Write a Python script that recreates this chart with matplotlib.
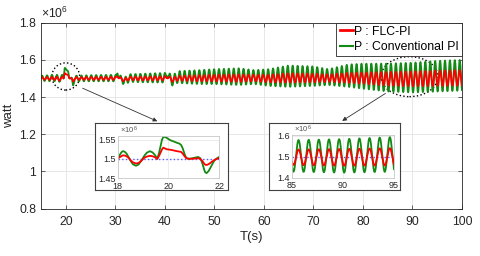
import matplotlib.pyplot as plt
import numpy as np
from matplotlib.patches import Ellipse, FancyArrowPatch

plt.rcParams['font.family'] = ['Liberation Sans', 'DejaVu Sans']

# envelope of the ~1 s power oscillation (x1e6 W)
env_t = [15, 18, 22, 25, 30, 35, 40, 43, 47, 50, 55, 58, 61, 65, 70, 73, 77, 80, 85, 90, 95, 100]
green_top = [1.515, 1.52, 1.515, 1.518, 1.52, 1.525, 1.53, 1.54, 1.545, 1.55, 1.555, 1.545,
             1.55, 1.57, 1.565, 1.55, 1.575, 1.58, 1.58, 1.585, 1.595, 1.6]
green_bot = [1.487, 1.485, 1.485, 1.485, 1.485, 1.48, 1.478, 1.475, 1.47, 1.47, 1.465, 1.47,
             1.46, 1.455, 1.46, 1.465, 1.455, 1.445, 1.43, 1.425, 1.43, 1.435]
red_top = [1.507, 1.509, 1.507, 1.508, 1.509, 1.51, 1.512, 1.515, 1.518, 1.52, 1.522, 1.52,
           1.52, 1.528, 1.526, 1.522, 1.53, 1.532, 1.535, 1.538, 1.542, 1.545]
red_bot = [1.494, 1.492, 1.493, 1.493, 1.493, 1.49, 1.49, 1.488, 1.485, 1.485, 1.482, 1.485,
           1.48, 1.478, 1.48, 1.482, 1.477, 1.472, 1.462, 1.458, 1.46, 1.462]
osc_period = 0.992
osc_peak = 18.2

# 18-22 s window
z_t = [18.0, 18.05, 18.1, 18.15, 18.2, 18.27, 18.35, 18.43, 18.5, 18.6, 18.72, 18.82, 18.9,
       18.98, 19.05, 19.15, 19.27, 19.37, 19.45, 19.52, 19.56, 19.62, 19.68, 19.74, 19.8,
       19.86, 19.92, 20.05, 20.2, 20.32, 20.42, 20.5, 20.56, 20.62, 20.7, 20.8, 20.9, 21.05,
       21.17, 21.25, 21.32, 21.38, 21.44, 21.5, 21.58, 21.68, 21.8, 21.9, 22.0]
z_green = [1.500, 1.506, 1.512, 1.517, 1.520, 1.519, 1.514, 1.505, 1.496, 1.486, 1.482, 1.485,
           1.492, 1.500, 1.508, 1.516, 1.520, 1.517, 1.512, 1.505, 1.500, 1.512, 1.530, 1.548,
           1.557, 1.557, 1.555, 1.549, 1.545, 1.542, 1.540, 1.536, 1.528, 1.515, 1.502, 1.500,
           1.501, 1.503, 1.505, 1.502, 1.492, 1.478, 1.466, 1.463, 1.468, 1.480, 1.495, 1.501,
           1.505]
z_red = [1.500, 1.503, 1.505, 1.507, 1.509, 1.509, 1.507, 1.503, 1.497, 1.491, 1.488, 1.489,
         1.493, 1.498, 1.503, 1.506, 1.508, 1.507, 1.505, 1.502, 1.500, 1.506, 1.515, 1.524,
         1.529, 1.527, 1.525, 1.524, 1.522, 1.520, 1.519, 1.518, 1.514, 1.508, 1.502, 1.500,
         1.500, 1.501, 1.502, 1.500, 1.496, 1.490, 1.485, 1.484, 1.486, 1.491, 1.497, 1.500,
         1.502]

# disturbances near 30 s and 40 s (offsets on top of the oscillation)
ev_t = [30.2, 30.45, 30.65, 30.9, 31.3, 31.9, 32.5, 32.7,
        40.2, 40.45, 40.65, 40.9, 41.3, 41.8, 42.3, 42.5]
ev_green = [0, 0.035, 0.02, 0, -0.012, -0.014, -0.008, 0,
            0, 0.032, 0.018, -0.004, -0.014, -0.014, -0.006, 0]
ev_red = [0, 0.015, 0.009, 0, -0.006, -0.007, -0.004, 0,
          0, 0.014, 0.008, -0.002, -0.007, -0.007, -0.003, 0]

t = np.arange(15, 100.0001, 0.005)
wave = np.cos(2 * np.pi * (t - osc_peak) / osc_period)


def build(top, bot, ev):
    hi = np.interp(t, env_t, top)
    lo = np.interp(t, env_t, bot)
    y = (hi + lo) / 2 + (hi - lo) / 2 * wave
    return y + np.interp(t, ev_t, ev, left=0, right=0)


p_green = build(green_top, green_bot, ev_green)
p_red = build(red_top, red_bot, ev_red)
win = (t >= 18) & (t <= 22)
p_green[win] = np.interp(t[win], z_t, z_green)
p_red[win] = np.interp(t[win], z_t, z_red)

green = '#138a13'
red = '#ff0000'
dark = '#262626'

fig = plt.figure(figsize=(4.8, 2.56), dpi=100)
ax = fig.add_axes([0.0854, 0.1848, 0.8771, 0.7265])
ax.plot(t, p_green, color=green, lw=1.3)
ax.plot(t, p_red, color=red, lw=1.3)
ax.set_xlim(15, 100)
ax.set_ylim(0.8, 1.8)
ax.set_xticks([20, 30, 40, 50, 60, 70, 80, 90, 100])
ax.set_yticks([0.8, 1.0, 1.2, 1.4, 1.6, 1.8])
ax.set_yticklabels(['0.8', '1', '1.2', '1.4', '1.6', '1.8'])
ax.tick_params(direction='in', top=True, right=True, length=3, width=0.5,
               colors=dark, labelsize=8.8)
ax.tick_params(axis='x', pad=5.5)
ax.tick_params(axis='y', pad=3.5)
for s in ax.spines.values():
    s.set_color(dark)
    s.set_linewidth(0.6)
ax.grid(True, color='#e3e3e3', lw=0.6)
ax.set_axisbelow(True)
ax.set_xlabel('T(s)', fontsize=9.5, color=dark, labelpad=2)
ax.set_ylabel('watt', fontsize=9.5, color=dark, labelpad=3)
ax.text(0.0, 1.01, r'×$\mathregular{10^6}$', transform=ax.transAxes, fontsize=8.8,
        color=dark, va='bottom', ha='left')

h_red, = ax.plot([], [], color=red, lw=2)
h_green, = ax.plot([], [], color=green, lw=1.5)
leg = ax.legend([h_red, h_green], ['P : FLC-PI', 'P : Conventional PI'], loc='upper right',
                fontsize=8.8, borderaxespad=0, fancybox=False, framealpha=1,
                handlelength=1.1, handletextpad=0.1, borderpad=0.25, labelspacing=0.3)
leg.get_frame().set_edgecolor(dark)
leg.get_frame().set_linewidth(0.6)

ax.add_patch(Ellipse((20, 1.511), 5.6, 0.146, fill=False, ls=':', lw=1, ec='k'))
ax.add_patch(Ellipse((89.4, 1.51), 11.5, 0.215, fill=False, ls=':', lw=1, ec='k'))


def inset(box, pos, x0, x1, ylim, xt, yt, ylab):
    b = fig.add_axes(box)
    b.set_xticks([])
    b.set_yticks([])
    for s in b.spines.values():
        s.set_color('#404040')
        s.set_linewidth(0.8)
    a = fig.add_axes(pos)
    m = (t >= x0) & (t <= x1)
    a.axhline(1.5, color='#5a5aff', ls=':', lw=1)
    a.plot(t[m], p_green[m], color=green, lw=1.3)
    a.plot(t[m], p_red[m], color=red, lw=1.3)
    a.set_xlim(x0, x1)
    a.set_ylim(*ylim)
    a.set_xticks(xt)
    a.set_yticks(yt)
    a.set_yticklabels(ylab)
    a.tick_params(length=0, labelsize=6.5, colors=dark, pad=1.5)
    a.tick_params(axis='x', pad=2.5)
    a.grid(True, color='#e6e6e6', lw=0.5)
    for s in a.spines.values():
        s.set_color('#c8c8c8')
        s.set_linewidth(0.6)
    a.text(0.02, 1.0, r'×$\mathregular{10^6}$', transform=a.transAxes, fontsize=5.5,
           color='#505050', va='bottom', ha='left')
    return a


inset([0.198, 0.258, 0.277, 0.262], [0.245, 0.304, 0.2117, 0.166], 18, 22, (1.45, 1.56),
      [18, 20, 22], [1.45, 1.5, 1.55], ['1.45', '1.5', '1.55'])
inset([0.560, 0.258, 0.273, 0.262], [0.608, 0.305, 0.213, 0.168], 85, 95, (1.4, 1.605),
      [85, 90, 95], [1.4, 1.5, 1.6], ['1.4', '1.5', '1.6'])

for a0, a1 in [((0.1667, 0.660), (0.333, 0.522)), ((0.808, 0.641), (0.708, 0.522))]:
    fig.add_artist(FancyArrowPatch(a0, a1, transform=fig.transFigure, arrowstyle='-|>',
                                   mutation_scale=6, lw=0.6, color='#333333', zorder=5))

fig.savefig('out.png', dpi=100)
